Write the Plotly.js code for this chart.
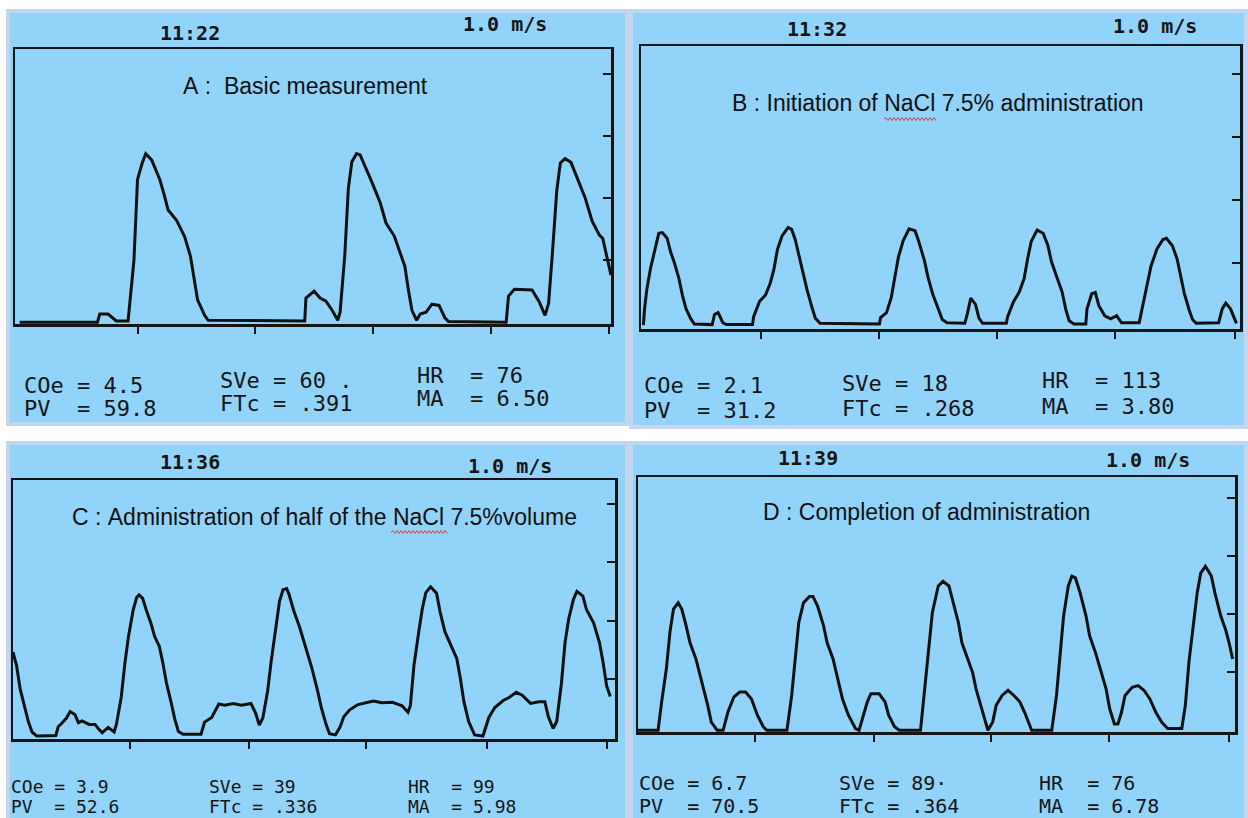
<!DOCTYPE html>
<html><head><meta charset="utf-8">
<script src="https://cdn.plot.ly/plotly-3.0.1.min.js"></script>
<style>html,body{margin:0;padding:0;background:#fff}#chart{width:1248px;height:818px}</style>
</head><body><div id="chart"></div>
<script>
// ---- Data (time in tick units, signal in tick units above baseline) ----
const aTime = [0.04,0.70,0.72,0.79,0.86,0.96,1.01,1.04,1.08,1.11,1.16,1.23,1.27,1.30,1.37,1.44,1.49,1.52,1.55,1.61,1.64,2.46,2.47,2.54,2.59,2.64,2.69,2.74,2.76,2.80,2.83,2.86,2.90,2.93,2.97,3.03,3.10,3.15,3.22,3.27,3.31,3.34,3.37,3.41,3.44,3.49,3.54,3.60,3.65,3.68,4.17,4.19,4.24,4.39,4.45,4.50,4.53,4.56,4.60,4.63,4.67,4.72,4.77,4.84,4.90,4.96,4.99,5.02,5.06];
const aSignal = [0,0,0.13,0.13,0.02,0.02,1.0,2.30,2.57,2.72,2.62,2.30,2.03,1.81,1.65,1.38,1.06,0.73,0.36,0.11,0.03,0.02,0.39,0.50,0.39,0.34,0.20,0.03,0.16,1.08,2.16,2.59,2.72,2.70,2.53,2.26,1.93,1.60,1.39,1.11,0.90,0.52,0.19,0.03,0.13,0.16,0.29,0.27,0.07,0.01,0,0.42,0.53,0.52,0.33,0.11,0.30,1.05,2.13,2.57,2.64,2.58,2.34,2.01,1.63,1.41,1.35,1.08,0.76];

const bTime = [0.02,0.03,0.05,0.08,0.12,0.15,0.18,0.22,0.25,0.28,0.32,0.35,0.38,0.42,0.45,0.60,0.62,0.65,0.69,0.72,0.94,0.95,1.00,1.05,1.09,1.12,1.15,1.19,1.24,1.27,1.30,1.34,1.37,1.40,1.44,1.47,1.51,2.01,2.02,2.07,2.11,2.14,2.17,2.21,2.26,2.31,2.34,2.39,2.42,2.46,2.51,2.54,2.58,2.73,2.75,2.78,2.82,2.85,2.88,3.08,3.09,3.14,3.19,3.23,3.26,3.29,3.34,3.39,3.43,3.46,3.51,3.55,3.58,3.61,3.65,3.75,3.76,3.80,3.83,3.86,3.91,3.96,4.01,4.05,4.20,4.23,4.26,4.30,4.35,4.40,4.43,4.48,4.52,4.55,4.58,4.62,4.65,4.68,4.87,4.90,4.93,4.97,5.00,5.02];
const bSignal = [0.02,0.28,0.60,0.92,1.24,1.48,1.49,1.40,1.18,1.02,0.76,0.49,0.28,0.12,0.04,0.03,0.19,0.22,0.06,0.03,0.03,0.16,0.40,0.50,0.69,0.90,1.22,1.44,1.57,1.54,1.38,1.06,0.79,0.58,0.31,0.13,0.05,0.04,0.14,0.22,0.46,0.78,1.10,1.36,1.55,1.52,1.36,1.04,0.78,0.51,0.27,0.11,0.06,0.05,0.19,0.45,0.35,0.13,0.05,0.05,0.15,0.39,0.55,0.76,1.08,1.35,1.53,1.48,1.29,1.03,0.76,0.55,0.28,0.09,0.04,0.04,0.28,0.52,0.54,0.33,0.17,0.12,0.17,0.06,0.06,0.32,0.59,0.96,1.23,1.38,1.40,1.28,1.07,0.80,0.53,0.27,0.11,0.05,0.06,0.28,0.37,0.28,0.13,0.05];

const cTime = [0.00,0.03,0.06,0.10,0.13,0.16,0.20,0.36,0.38,0.41,0.45,0.48,0.52,0.55,0.58,0.64,0.69,0.72,0.75,0.80,0.85,0.87,0.91,0.94,0.97,1.01,1.04,1.06,1.09,1.12,1.16,1.19,1.23,1.26,1.29,1.33,1.36,1.39,1.43,1.58,1.61,1.67,1.70,1.73,1.78,1.85,1.92,2.00,2.04,2.07,2.10,2.14,2.17,2.21,2.24,2.27,2.30,2.32,2.36,2.41,2.46,2.51,2.56,2.59,2.63,2.66,2.71,2.75,2.78,2.83,2.90,2.97,3.03,3.10,3.19,3.27,3.32,3.34,3.37,3.41,3.44,3.47,3.51,3.56,3.59,3.63,3.68,3.73,3.76,3.79,3.83,3.88,3.95,4.00,4.05,4.12,4.17,4.23,4.28,4.35,4.42,4.47,4.50,4.54,4.57,4.61,4.64,4.67,4.71,4.74,4.79,4.82,4.88,4.93,4.96,4.99,5.02];
const cSignal = [1.46,1.23,0.83,0.49,0.26,0.09,0.02,0.03,0.18,0.24,0.33,0.44,0.39,0.25,0.28,0.22,0.22,0.14,0.08,0.17,0.09,0.23,0.69,1.26,1.72,2.18,2.40,2.44,2.38,2.18,1.95,1.73,1.56,1.27,0.93,0.59,0.31,0.10,0.05,0.05,0.26,0.34,0.46,0.57,0.55,0.58,0.55,0.58,0.41,0.21,0.33,0.79,1.30,1.88,2.33,2.53,2.55,2.45,2.17,1.88,1.54,1.20,0.80,0.52,0.23,0.06,0.04,0.18,0.35,0.47,0.56,0.59,0.62,0.59,0.60,0.54,0.43,0.54,1.23,1.80,2.20,2.48,2.58,2.47,2.15,1.81,1.58,1.35,1.01,0.61,0.27,0.04,0.02,0.34,0.51,0.63,0.68,0.77,0.72,0.58,0.61,0.61,0.35,0.15,0.27,0.93,1.62,2.02,2.36,2.50,2.42,2.19,1.96,1.62,1.28,0.88,0.70];

const dTime = [0,0.17,0.20,0.24,0.27,0.30,0.34,0.37,0.40,0.44,0.49,0.52,0.56,0.59,0.62,0.67,0.72,0.76,0.81,0.86,0.91,0.96,1.01,1.06,1.09,1.26,1.30,1.33,1.36,1.40,1.45,1.48,1.52,1.57,1.60,1.65,1.70,1.73,1.78,1.84,1.87,1.90,1.94,1.97,2.04,2.09,2.12,2.17,2.21,2.39,2.42,2.46,2.49,2.54,2.58,2.63,2.66,2.71,2.74,2.78,2.83,2.86,2.90,2.93,2.96,3.00,3.03,3.08,3.13,3.18,3.23,3.27,3.30,3.33,3.50,3.54,3.57,3.60,3.64,3.67,3.70,3.74,3.79,3.82,3.87,3.92,3.96,3.99,4.03,4.06,4.09,4.12,4.18,4.23,4.28,4.33,4.38,4.43,4.48,4.60,4.63,4.66,4.70,4.73,4.76,4.80,4.85,4.88,4.93,4.97,5.00,5.03];
const dSignal = [0,0,0.49,1.06,1.69,2.09,2.20,2.09,1.86,1.51,1.23,1.00,0.71,0.43,0.14,0,0,0.31,0.57,0.66,0.66,0.54,0.26,0.06,0,0,0.60,1.29,1.86,2.20,2.31,2.31,2.14,1.80,1.51,1.23,0.83,0.54,0.26,0.03,0,0.20,0.49,0.63,0.63,0.49,0.26,0.06,0,0,0.60,1.40,2.03,2.49,2.57,2.49,2.26,1.86,1.51,1.29,1.00,0.71,0.43,0.20,0,0.14,0.43,0.60,0.69,0.60,0.49,0.31,0.14,0,0,0.60,1.29,1.97,2.49,2.66,2.63,2.37,1.97,1.63,1.34,1.00,0.71,0.37,0.11,0.11,0.31,0.60,0.74,0.77,0.69,0.54,0.31,0.14,0.03,0.03,0.43,1.17,1.86,2.37,2.71,2.83,2.66,2.37,1.97,1.74,1.51,1.23];

const xTicksA = [1.04,2.04,3.04,4.04,5.04];
const xTicksB = [1.01,2.01,3.00,4.00,5.01];
const xTicksC = [0.98,1.98,2.97,3.98,4.99];
const xTicksD = [0.99,2.00,2.99,3.98,5.00];
const yTicks = [1,2,3,4];

const panelTitles = ["A :  Basic measurement","B : Initiation of NaCl 7.5% administration","C : Administration of half of the NaCl 7.5%volume","D : Completion of administration"];
const clockLabels = ["11:22","11:32","11:36","11:39"];
const speedLabels = ["1.0 m/s","1.0 m/s","1.0 m/s","1.0 m/s"];
const statsA = ["COe = 4.5","PV  = 59.8","SVe = 60 .","FTc = .391","HR  = 76","MA  = 6.50"];
const statsB = ["COe = 2.1","PV  = 31.2","SVe = 18","FTc = .268","HR  = 113","MA  = 3.80"];
const statsC = ["COe = 3.9","PV  = 52.6","SVe = 39","FTc = .336","HR  = 99","MA  = 5.98"];
const statsD = ["COe = 6.7","PV  = 70.5","SVe = 89·","FTc = .364","HR  = 76","MA  = 6.78"];

// ---- Layout geometry (pixels) ----
const W = 1248, H = 818;
const fx = v => v / W, fy = v => 1 - v / H;
const frames = [
  {l:15, r:611, t:49, b:324, xr:[0,5.06], yr:[-0.03,4.41], ticks:xTicksA},
  {l:641, r:1240, t:46, b:329, xr:[0,5.05], yr:[-0.04,4.45], ticks:xTicksB},
  {l:13, r:615, t:480, b:739, xr:[0,5.06], yr:[-0.03,4.41], ticks:xTicksC},
  {l:638, r:1235, t:477, b:732, xr:[0,5.05], yr:[-0.03,4.37], ticks:xTicksD}
];
const bgs = [[8,11,627,424],[631,11,1246,427],[8,443,627,830],[631,443,1246,830]];
const textPos = [
  {clock:[190,33], speed:[505,24], title:[305,86], size:22, cols:[[22,[385,408]],[218,[381,404]],[415,[375,398]]]},
  {clock:[817,29], speed:[1155,26], title:[938,103], size:22, cols:[[642,[385,410]],[840,[383,408]],[1040,[381,406]]]},
  {clock:[190,462], speed:[510,466], title:[324,517], size:18, cols:[[9,[786,806]],[207,[786,806]],[406,[786,806]]]},
  {clock:[808,458], speed:[1148,460], title:[926,512], size:20, cols:[[637,[783,806]],[837,[783,806]],[1037,[783,806]]]}
];
const stats = [statsA, statsB, statsC, statsD];
const series = [[aTime,aSignal],[bTime,bSignal],[cTime,cSignal],[dTime,dSignal]];

const traces = series.map((s,i) => ({
  x: s[0], y: s[1], type: 'scatter', mode: 'lines',
  xaxis: i===0?'x':'x'+(i+1), yaxis: i===0?'y':'y'+(i+1),
  line: {color:'#111', width:3}, hoverinfo:'skip', showlegend:false
}));

const layout = {
  width: W, height: H, margin:{l:0,r:0,t:0,b:0},
  paper_bgcolor:'#ffffff', plot_bgcolor:'rgba(0,0,0,0)',
  showlegend:false, shapes:[], annotations:[]
};
frames.forEach((f,i) => {
  const k = i===0?'':(i+1);
  layout['xaxis'+k] = {domain:[fx(f.l),fx(f.r)], range:f.xr, anchor:'y'+k,
    showgrid:false, zeroline:false, showline:true, mirror:true, linecolor:'#151515', linewidth:2.5,
    ticks:'outside', tickvals:f.ticks, ticklen:7, tickwidth:2, tickcolor:'#151515', showticklabels:false, fixedrange:true};
  layout['yaxis'+k] = {domain:[fy(f.b),fy(f.t)], range:f.yr, anchor:'x'+k, side:'right',
    showgrid:false, zeroline:false, showline:true, mirror:true, linecolor:'#151515', linewidth:2.5,
    ticks:'inside', tickvals:yTicks, ticklen:8, tickwidth:2, tickcolor:'#151515', showticklabels:false, fixedrange:true};
});
bgs.forEach(b => layout.shapes.push({type:'rect', xref:'paper', yref:'paper', layer:'below',
  x0:fx(b[0]), x1:fx(b[2]), y0:fy(b[3]), y1:fy(b[1]), fillcolor:'#92d3f9', line:{color:'#c4d6ee', width:4}}));

// red spell-check underline under "NaCl"
function wavy(x0,x1,y){ let d='M'+fx(x0)+','+fy(y); let up=true;
  for(let x=x0+2;x<=x1;x+=2){ d+=' L'+fx(x)+','+fy(y+(up?-1.5:1.5)); up=!up; } return d; }
layout.shapes.push({type:'path', xref:'paper', yref:'paper', path:wavy(884,937,119), line:{color:'#e0403a', width:1}});
layout.shapes.push({type:'path', xref:'paper', yref:'paper', path:wavy(391,447,532), line:{color:'#e0403a', width:1}});

const nb = s => s.replace(/ /g,'\u00a0');
const printFont = {family:'DejaVu Sans Mono, monospace', size:20, color:'#161616', weight:'bold'};
textPos.forEach((p,i) => {
  layout.annotations.push({text:clockLabels[i], xref:'paper', yref:'paper', x:fx(p.clock[0]), y:fy(p.clock[1]),
    xanchor:'center', yanchor:'middle', showarrow:false, font:printFont});
  layout.annotations.push({text:nb(speedLabels[i]), xref:'paper', yref:'paper', x:fx(p.speed[0]), y:fy(p.speed[1]),
    xanchor:'center', yanchor:'middle', showarrow:false, font:printFont});
  layout.annotations.push({text:nb(panelTitles[i]), xref:'paper', yref:'paper', x:fx(p.title[0]), y:fy(p.title[1]),
    xanchor:'center', yanchor:'middle', showarrow:false, font:{family:'Liberation Sans, Arial, sans-serif', size:23, color:'#111'}});
  const mono = {family:'DejaVu Sans Mono, monospace', size:p.size, color:'#161616'};
  p.cols.forEach((c,j) => {
    [0,1].forEach(r => layout.annotations.push({text:nb(stats[i][j*2+r]), xref:'paper', yref:'paper',
      x:fx(c[0]), y:fy(c[1][r]), xanchor:'left', yanchor:'middle', showarrow:false, font:mono}));
  });
});

Plotly.newPlot('chart', traces, layout, {staticPlot:true, displayModeBar:false});
</script>
</body></html>
